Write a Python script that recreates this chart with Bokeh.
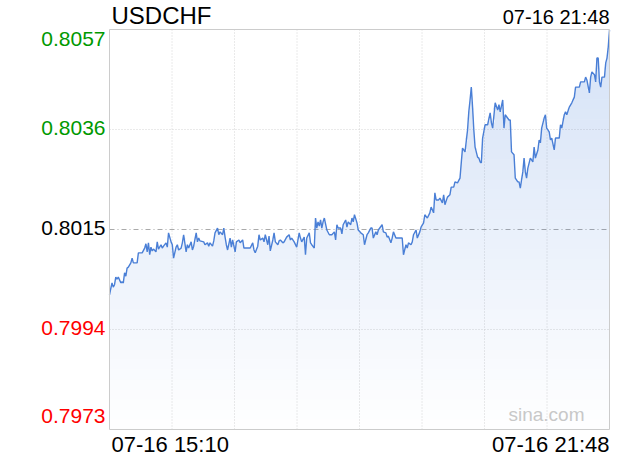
import numpy as np
from bokeh.plotting import figure
from bokeh.models import Range1d, Label
from bokeh.embed import file_html
from bokeh.resources import INLINE

symbol = "USDCHF"
start_label = "07-16 15:10"
end_label = "07-16 21:48"
watermark = "sina.com"
y_ticks = [0.8057, 0.8036, 0.8015, 0.7994, 0.7973]
prev_close = 0.8015
session_minutes = 398  # 15:10 -> 21:48

# minutes after 15:10 and USDCHF price
min_a = [0, 2, 3, 4, 5, 6, 7, 9, 10, 11, 12, 13, 14, 15, 17, 18, 19, 21, 22, 23,
         26, 28, 29, 30, 31, 32, 33, 34, 35, 37, 38, 39, 41, 42, 43, 45, 46, 47, 49, 50,
         51, 53, 54, 55, 57, 58, 59, 61, 62, 63, 65, 66, 67, 69, 70, 71, 72]
price_a = [0.80013, 0.80038, 0.80029, 0.80034, 0.80050, 0.80046, 0.80050, 0.80038, 0.80040, 0.80038,
           0.80059, 0.80052, 0.80069, 0.80071, 0.80080, 0.80090, 0.80080, 0.80080, 0.80080, 0.80101,
           0.80101, 0.80111, 0.80120, 0.80103, 0.80122, 0.80097, 0.80113, 0.80105, 0.80109, 0.80103,
           0.80124, 0.80109, 0.80118, 0.80111, 0.80115, 0.80122, 0.80113, 0.80143, 0.80124, 0.80118,
           0.80090, 0.80113, 0.80118, 0.80107, 0.80111, 0.80122, 0.80139, 0.80103, 0.80118, 0.80111,
           0.80124, 0.80107, 0.80115, 0.80143, 0.80124, 0.80132, 0.80126]

min_b = [75, 76, 78, 79, 80, 82, 83, 84, 86, 87, 88, 90, 91, 92, 93, 94, 96, 97, 98, 100,
         101, 103, 104, 106, 107, 110, 112, 114, 115, 116, 118, 119, 120, 122, 123, 124, 126, 127, 128, 130,
         131, 132, 134, 135, 136, 138, 139, 141, 143, 144, 145, 147, 149, 151, 152]
price_b = [0.80124, 0.80118, 0.80122, 0.80115, 0.80122, 0.80115, 0.80126, 0.80143, 0.80153, 0.80139,
           0.80145, 0.80139, 0.80153, 0.80134, 0.80118, 0.80107, 0.80132, 0.80113, 0.80128, 0.80103,
           0.80124, 0.80128, 0.80122, 0.80128, 0.80111, 0.80111, 0.80111, 0.80122, 0.80107, 0.80101,
           0.80115, 0.80139, 0.80128, 0.80132, 0.80124, 0.80139, 0.80118, 0.80136, 0.80105, 0.80128,
           0.80143, 0.80124, 0.80118, 0.80126, 0.80128, 0.80122, 0.80124, 0.80134, 0.80139, 0.80128,
           0.80132, 0.80124, 0.80113, 0.80143, 0.80132]

min_c = [153, 155, 156, 157, 159, 160, 161, 163, 164, 165, 166, 167, 168, 169, 170, 171, 173, 175, 177, 179,
         180, 181, 182, 184, 185, 186, 188, 189, 190, 192, 193, 194, 195, 197, 198, 200, 202, 203, 205, 206,
         208, 209, 210, 212, 213, 214, 217, 218, 220, 221, 222, 224, 225, 226, 228, 230, 233, 234, 236, 237,
         238, 240, 241, 242, 244, 245, 247]
price_c = [0.80124, 0.80134, 0.80097, 0.80132, 0.80143, 0.80122, 0.80118, 0.80111, 0.80174, 0.80153,
           0.80166, 0.80157, 0.80170, 0.80153, 0.80166, 0.80174, 0.80149, 0.80139, 0.80139, 0.80145,
           0.80128, 0.80160, 0.80153, 0.80153, 0.80141, 0.80160, 0.80170, 0.80155, 0.80166, 0.80160,
           0.80174, 0.80166, 0.80181, 0.80164, 0.80149, 0.80143, 0.80139, 0.80118, 0.80139, 0.80143,
           0.80153, 0.80153, 0.80132, 0.80145, 0.80139, 0.80149, 0.80160, 0.80145, 0.80143, 0.80134,
           0.80136, 0.80122, 0.80132, 0.80145, 0.80132, 0.80132, 0.80132, 0.80097, 0.80118, 0.80111,
           0.80122, 0.80118, 0.80124, 0.80139, 0.80149, 0.80132, 0.80145]

min_d = [248, 250, 251, 253, 255, 256, 258, 259, 260, 262, 263, 265, 266, 267, 269, 271, 272, 274, 275, 277,
         279, 280, 281, 282, 283, 285, 286, 287, 288, 289, 290, 291, 293, 294, 295, 296, 297, 299, 301, 303,
         304, 305, 307, 309, 310, 311, 313, 314, 315, 318]
price_d = [0.80155, 0.80164, 0.80181, 0.80174, 0.80185, 0.80197, 0.80185, 0.80227, 0.80212, 0.80212,
           0.80216, 0.80206, 0.80223, 0.80202, 0.80218, 0.80223, 0.80239, 0.80239, 0.80250, 0.80248,
           0.80258, 0.80290, 0.80321, 0.80317, 0.80313, 0.80359, 0.80397, 0.80422, 0.80449, 0.80407,
           0.80359, 0.80323, 0.80302, 0.80300, 0.80292, 0.80290, 0.80342, 0.80370, 0.80370, 0.80395,
           0.80374, 0.80363, 0.80416, 0.80401, 0.80412, 0.80397, 0.80422, 0.80363, 0.80391, 0.80380]

min_e = [319, 320, 322, 323, 325, 326, 327, 329, 330, 331, 332, 333, 335, 337, 338, 339, 341, 342, 343, 344,
         346, 347, 348, 350, 351, 352, 354, 355, 358, 359, 360, 362, 363, 364, 366, 368, 370, 371, 374, 375,
         378, 379, 380, 382, 383, 384, 386, 387, 388, 389, 390, 391, 392, 394, 395, 396, 397, 398]
price_e = [0.80380, 0.80313, 0.80307, 0.80258, 0.80250, 0.80250, 0.80237, 0.80271, 0.80300, 0.80271,
           0.80258, 0.80279, 0.80300, 0.80292, 0.80323, 0.80300, 0.80317, 0.80338, 0.80332, 0.80363,
           0.80384, 0.80391, 0.80363, 0.80355, 0.80338, 0.80342, 0.80317, 0.80342, 0.80342, 0.80370,
           0.80363, 0.80391, 0.80397, 0.80391, 0.80407, 0.80416, 0.80428, 0.80449, 0.80449, 0.80460,
           0.80460, 0.80470, 0.80464, 0.80437, 0.80470, 0.80481, 0.80475, 0.80460, 0.80510, 0.80510,
           0.80460, 0.80449, 0.80470, 0.80470, 0.80500, 0.80510, 0.80533, 0.80569]

minutes = np.array(min_a + min_b + min_c + min_d + min_e, dtype=float)
prices = np.array(price_a + price_b + price_c + price_d + price_e)

y_lo, y_hi = min(y_ticks), max(y_ticks)
FONT = "Liberation Sans"

# layout (pixels): canvas and the plotting box inside it
W, H = 612, 458
BOX_L, BOX_R, BOX_T, BOX_B = 109, 609, 29, 429
kx = session_minutes / (BOX_R - BOX_L)
ky = (y_hi - y_lo) / (BOX_B - BOX_T)
x_range = Range1d(-BOX_L * kx, session_minutes + (W - BOX_R) * kx)
y_range = Range1d(y_lo - (H - BOX_B) * ky, y_hi + BOX_T * ky)

p = figure(frame_width=W, frame_height=H, min_border=0,
           x_range=x_range, y_range=y_range,
           x_axis_location=None, y_axis_location=None,
           output_backend="svg", toolbar_location=None)
p.background_fill_color = "white"
p.border_fill_color = "white"
p.outline_line_color = None
p.grid.visible = False

# grid lines
vticks = [session_minutes * k / 8 for k in range(1, 8)]
p.segment(x0=vticks, x1=vticks, y0=y_lo, y1=y_hi,
          line_color="#d4d4d4", line_dash="1 2", line_width=1)
hticks = [t for t in y_ticks if t not in (y_lo, y_hi, prev_close)]
p.segment(x0=0, x1=session_minutes, y0=hticks, y1=hticks,
          line_color="#d4d4d4", line_dash="1 2", line_width=1)
p.segment(x0=[0], x1=[session_minutes], y0=[prev_close], y1=[prev_close],
          line_color="#aaaaaa", line_dash="5 3 1 3", line_width=1)

# gradient area fill (bands from bottom to top)
n_bands = 40
edges = np.linspace(y_lo, y_hi, n_bands + 1)
for i in range(n_bands):
    lo, hi = edges[i], edges[i + 1]
    alpha = 0.22 * (i + 0.5) / n_bands
    p.varea(x=minutes, y1=lo, y2=np.clip(prices, lo, hi),
            fill_color="#3c78d8", fill_alpha=alpha)

p.line(minutes, prices, line_color="#4a7fd6", line_width=1.4)

# plot box outline
p.quad(left=[0], right=[session_minutes], bottom=[y_lo], top=[y_hi],
       fill_color=None, line_color="#cccccc", line_width=1)

# y labels
offsets = {y_hi: -9, y_lo: 14}
for t in y_ticks:
    color = "#009900" if t > prev_close else ("#000000" if t == prev_close else "#ff0000")
    p.add_layout(Label(x=0, y=t, text=f"{t:.4f}", x_offset=-4, y_offset=offsets.get(t, 2),
                       text_align="right", text_baseline="alphabetic",
                       text_font=FONT, text_font_size="21px", text_color=color))

# titles / time labels
p.add_layout(Label(x=0, y=y_hi, text=symbol, x_offset=2, y_offset=14,
                   text_align="left", text_baseline="alphabetic",
                   text_font=FONT, text_font_size="24px", text_color="#000000"))
p.add_layout(Label(x=session_minutes, y=y_hi, text=end_label, x_offset=0, y_offset=13,
                   text_align="right", text_baseline="alphabetic",
                   text_font=FONT, text_font_size="20px", text_color="#000000"))
p.add_layout(Label(x=0, y=y_lo, text=start_label, x_offset=2, y_offset=-15,
                   text_align="left", text_baseline="alphabetic",
                   text_font=FONT, text_font_size="22px", text_color="#000000"))
p.add_layout(Label(x=session_minutes, y=y_lo, text=end_label, x_offset=0, y_offset=-15,
                   text_align="right", text_baseline="alphabetic",
                   text_font=FONT, text_font_size="22px", text_color="#000000"))
p.add_layout(Label(x=session_minutes, y=y_lo, text=watermark, x_offset=-25, y_offset=15,
                   text_align="right", text_baseline="alphabetic",
                   text_font=FONT, text_font_size="19px", text_color="#c8c8c8"))

open("out.html", "w").write(file_html(p, INLINE))
